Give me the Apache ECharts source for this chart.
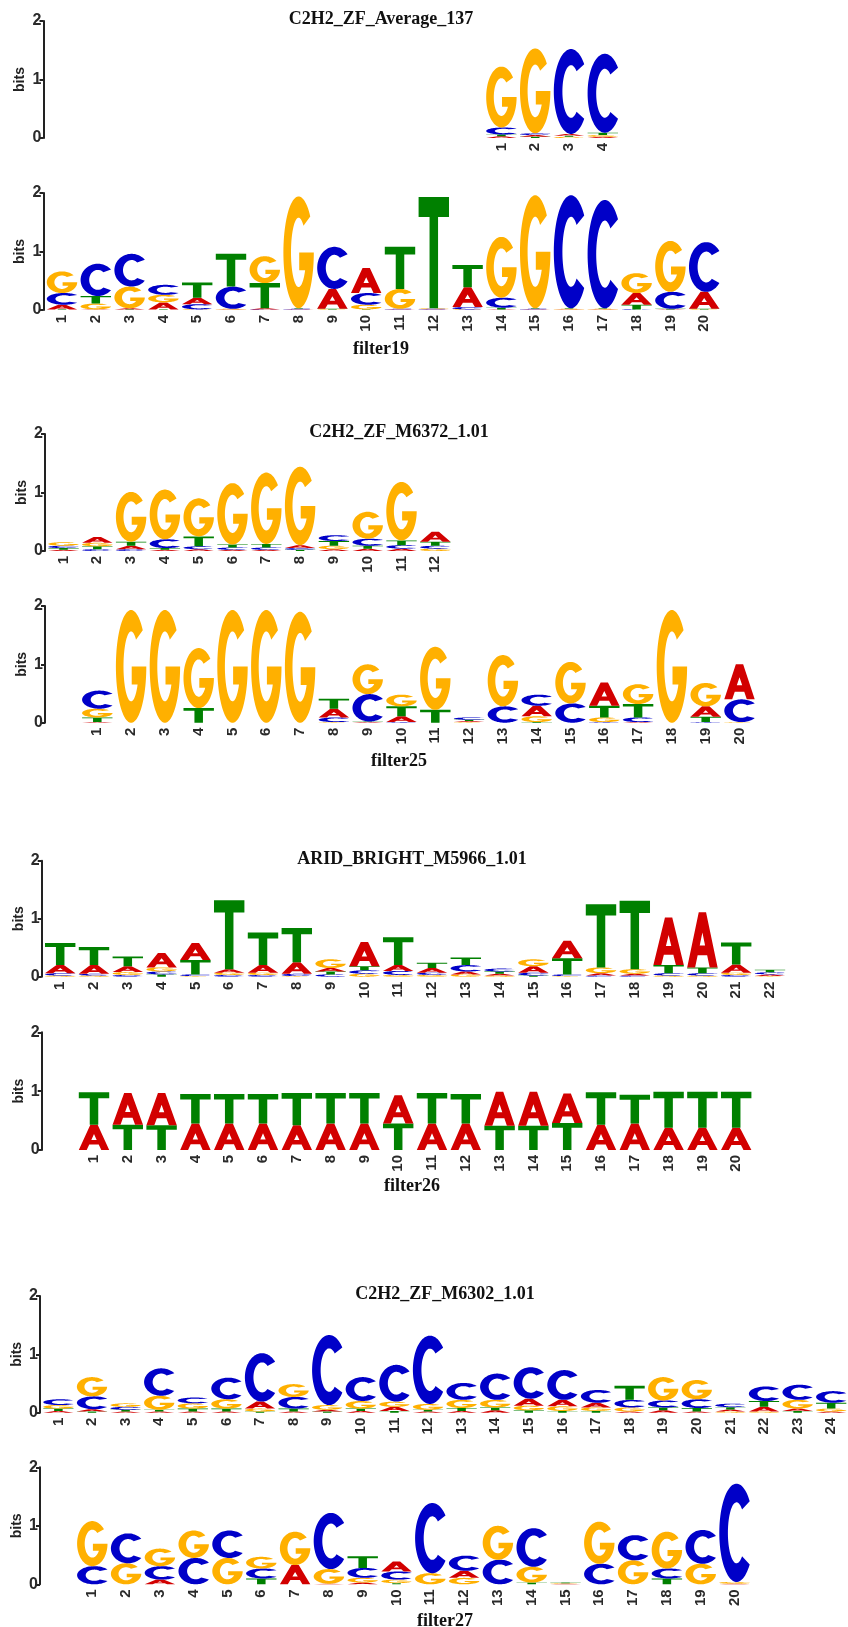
<!DOCTYPE html>
<html>
<head>
<meta charset="utf-8">
<script src="https://cdn.jsdelivr.net/npm/echarts@6/dist/echarts.min.js"></script>
<style>
html,body{margin:0;padding:0;background:#fff;}
#chart{width:848px;height:1627px;}
</style>
</head>
<body>
<div id="chart"></div>
<script>
// ---------------- DATA (information content in bits per letter per position) ----------------
// Pair 1
const avg137_A = [0.03, 0.03, 0.03, 0.02];
const avg137_C = [0.12, 0.03, 1.45, 1.35];
const avg137_G = [1.04, 1.45, 0.02, 0.03];
const avg137_T = [0.03, 0.02, 0.02, 0.04];

const filter19_A = [0.08, 0.01, 0.02, 0.12, 0.11, 0.01, 0.02, 0.01, 0.34, 0.43, 0.01, 0.01, 0.34, 0.01, 0.01, 0.01, 0.01, 0.20, 0.01, 0.29];
const filter19_C = [0.20, 0.55, 0.56, 0.17, 0.09, 0.38, 0.01, 0.01, 0.72, 0.20, 0.01, 0.01, 0.04, 0.17, 0.01, 1.93, 1.85, 0.01, 0.29, 0.85];
const filter19_G = [0.37, 0.10, 0.37, 0.13, 0.01, 0.01, 0.46, 1.91, 0.01, 0.08, 0.34, 0.01, 0.01, 1.04, 1.93, 0.01, 0.01, 0.34, 0.87, 0.01];
const filter19_T = [0.01, 0.13, 0.01, 0.01, 0.26, 0.56, 0.43, 0.01, 0.01, 0.01, 0.72, 1.90, 0.38, 0.03, 0.01, 0.01, 0.01, 0.08, 0.01, 0.01];

// Pair 2
const m6372_A = [0.02, 0.10, 0.06, 0.02, 0.03, 0.02, 0.02, 0.05, 0.03, 0.04, 0.04, 0.17];
const m6372_C = [0.04, 0.03, 0.03, 0.15, 0.05, 0.04, 0.04, 0.03, 0.10, 0.12, 0.06, 0.05];
const m6372_G = [0.06, 0.06, 0.85, 0.85, 0.65, 1.05, 1.22, 1.34, 0.06, 0.46, 1.00, 0.04];
const m6372_T = [0.03, 0.05, 0.07, 0.03, 0.17, 0.05, 0.06, 0.02, 0.08, 0.05, 0.08, 0.07];

const filter25_A = [0.01, 0, 0, 0, 0, 0, 0, 0.15, 0.01, 0.10, 0, 0.02, 0, 0.18, 0, 0.40, 0.01, 0, 0.18, 0.60];
const filter25_C = [0.31, 0, 0, 0, 0, 0, 0, 0.08, 0.47, 0.01, 0, 0.04, 0.28, 0.19, 0.33, 0.01, 0.08, 0, 0.01, 0.39];
const filter25_G = [0.15, 1.93, 1.93, 1.03, 1.93, 1.93, 1.90, 0.01, 0.51, 0.20, 1.08, 0.01, 0.88, 0.10, 0.71, 0.08, 0.34, 1.93, 0.40, 0.01];
const filter25_T = [0.08, 0, 0, 0.25, 0, 0, 0, 0.17, 0.01, 0.17, 0.22, 0.02, 0, 0.01, 0, 0.20, 0.23, 0, 0.09, 0];

// Pair 3
const m5966_A = [0.14, 0.15, 0.10, 0.25, 0.29, 0.06, 0.13, 0.20, 0.06, 0.42, 0.10, 0.08, 0.05, 0.03, 0.11, 0.30, 0.04, 0.03, 0.82, 0.95, 0.14, 0.03];
const m5966_C = [0.04, 0.03, 0.03, 0.05, 0.03, 0.03, 0.03, 0.04, 0.04, 0.06, 0.07, 0.04, 0.11, 0.05, 0.05, 0.03, 0.02, 0.02, 0.04, 0.04, 0.03, 0.035];
const m5966_G = [0.02, 0.02, 0.05, 0.07, 0.01, 0.04, 0.04, 0.01, 0.15, 0.05, 0.03, 0.03, 0.04, 0.02, 0.12, 0.01, 0.10, 0.08, 0.02, 0.02, 0.04, 0.01];
const m5966_T = [0.38, 0.31, 0.17, 0.04, 0.25, 1.19, 0.56, 0.59, 0.05, 0.07, 0.48, 0.09, 0.13, 0.04, 0.02, 0.28, 1.09, 1.18, 0.14, 0.10, 0.38, 0.045];

const filter26_A = [0.43, 0.54, 0.55, 0.45, 0.45, 0.45, 0.42, 0.45, 0.45, 0.48, 0.45, 0.45, 0.58, 0.58, 0.50, 0.43, 0.45, 0.38, 0.38, 0.38];
const filter26_C = [0, 0, 0, 0, 0, 0, 0, 0, 0, 0, 0, 0, 0, 0, 0, 0, 0, 0, 0, 0];
const filter26_G = [0, 0, 0, 0, 0, 0, 0, 0, 0, 0, 0, 0, 0, 0, 0, 0, 0, 0, 0, 0];
const filter26_T = [0.55, 0.43, 0.42, 0.50, 0.50, 0.50, 0.55, 0.52, 0.52, 0.45, 0.52, 0.50, 0.41, 0.41, 0.46, 0.55, 0.49, 0.61, 0.61, 0.61];

// Pair 4
const m6302_A = [0.03, 0.04, 0.02, 0.02, 0.02, 0.02, 0.12, 0.02, 0.03, 0.03, 0.07, 0.02, 0.03, 0.04, 0.12, 0.11, 0.08, 0.02, 0.04, 0.02, 0.035, 0.08, 0.04, 0.02];
const m6302_C = [0.10, 0.22, 0.05, 0.47, 0.10, 0.37, 0.83, 0.20, 1.20, 0.41, 0.63, 1.17, 0.29, 0.45, 0.54, 0.51, 0.22, 0.13, 0.12, 0.15, 0.06, 0.25, 0.26, 0.20];
const m6302_G = [0.06, 0.33, 0.06, 0.24, 0.09, 0.16, 0.05, 0.22, 0.08, 0.13, 0.09, 0.10, 0.14, 0.13, 0.08, 0.08, 0.06, 0.07, 0.40, 0.33, 0.02, 0.02, 0.15, 0.05];
const m6302_T = [0.04, 0.02, 0.03, 0.03, 0.05, 0.05, 0.02, 0.05, 0.02, 0.04, 0.03, 0.03, 0.05, 0.05, 0.04, 0.03, 0.03, 0.24, 0.05, 0.06, 0.04, 0.10, 0.03, 0.10];

const filter27_A = [0, 0, 0.08, 0, 0, 0, 0.33, 0.01, 0.03, 0.17, 0, 0.12, 0, 0, 0.01, 0, 0, 0, 0, 0.01];
const filter27_C = [0.31, 0.51, 0.23, 0.45, 0.47, 0.17, 0, 0.96, 0.17, 0.14, 1.20, 0.26, 0.42, 0.66, 0, 0.35, 0.43, 0.17, 0.58, 1.68];
const filter27_G = [0.77, 0.36, 0.30, 0.47, 0.45, 0.20, 0.57, 0.25, 0.08, 0.06, 0.19, 0.11, 0.58, 0.27, 0.01, 0.72, 0.41, 0.63, 0.35, 0.03];
const filter27_T = [0, 0, 0, 0, 0, 0.10, 0, 0, 0.20, 0.02, 0, 0, 0, 0.03, 0.01, 0, 0, 0.10, 0, 0];

// Motif names / labels and alignment offsets (in positions)
const motifTitles = ['C2H2_ZF_Average_137', 'C2H2_ZF_M6372_1.01', 'ARID_BRIGHT_M5966_1.01', 'C2H2_ZF_M6302_1.01'];
const filterNames = ['filter19', 'filter25', 'filter26', 'filter27'];
const motifOffsets = [13, 0, 0, 0];
const filterOffsets = [0, 1, 1, 1];
const yTicks = [0, 1, 2];

// ---------------- LAYOUT ----------------
const SLOT = 33.8;
const pairLayout = [
  { axisX: 43.5, top1: 21,    base1: 138,    top2: 193,    base2: 310,    cx: 376, titleTop: 5,    labelTop: 335 },
  { axisX: 45,   top1: 434,   base1: 551,    top2: 606,    base2: 722.7,  cx: 394, titleTop: 418,  labelTop: 747 },
  { axisX: 41.7, top1: 860.7, base1: 976.7,  top2: 1032.3, base2: 1150,   cx: 407, titleTop: 845,  labelTop: 1172 },
  { axisX: 40,   top1: 1296,  base1: 1412.7, top2: 1467.3, base2: 1584.3, cx: 440, titleTop: 1280, labelTop: 1607 }
];

const panels = [
  { pair: 0, kind: 'motif',  offset: motifOffsets[0],  A: avg137_A,   C: avg137_C,   G: avg137_G,   T: avg137_T },
  { pair: 0, kind: 'filter', offset: filterOffsets[0], A: filter19_A, C: filter19_C, G: filter19_G, T: filter19_T },
  { pair: 1, kind: 'motif',  offset: motifOffsets[1],  A: m6372_A,    C: m6372_C,    G: m6372_G,    T: m6372_T },
  { pair: 1, kind: 'filter', offset: filterOffsets[1], A: filter25_A, C: filter25_C, G: filter25_G, T: filter25_T },
  { pair: 2, kind: 'motif',  offset: motifOffsets[2],  A: m5966_A,    C: m5966_C,    G: m5966_G,    T: m5966_T },
  { pair: 2, kind: 'filter', offset: filterOffsets[2], A: filter26_A, C: filter26_C, G: filter26_G, T: filter26_T },
  { pair: 3, kind: 'motif',  offset: motifOffsets[3],  A: m6302_A,    C: m6302_C,    G: m6302_G,    T: m6302_T },
  { pair: 3, kind: 'filter', offset: filterOffsets[3], A: filter27_A, C: filter27_C, G: filter27_G, T: filter27_T }
];

// ---------------- GLYPHS (unit box letter outlines) ----------------
const LETTERS = ['A', 'C', 'G', 'T'];
const COLORS = { A: '#d20000', C: '#0000c8', G: '#ffb000', T: '#008000' };
function arc(cx, cy, rx, ry, a0, a1, n) {
  const pts = [];
  for (let i = 0; i <= n; i++) {
    const a = (a0 + (a1 - a0) * i / n) * Math.PI / 180;
    pts.push([cx + rx * Math.cos(a), cy - ry * Math.sin(a)]);
  }
  return pts;
}
function poly(pts) {
  return 'M' + pts.map(p => p[0].toFixed(2) + ',' + p[1].toFixed(2)).join('L') + 'Z';
}
const GLYPH = {
  A: 'M0,100L38,0L62,0L100,100L74,100L65.6,78L34.4,78L26,100Z M41.2,60L58.8,60L50,36.8Z',
  T: 'M0,0L100,0L100,18L64,18L64,100L36,100L36,18L0,18Z',
  C: poly(arc(50, 50, 50, 50, 40, 320, 70).concat(arc(50, 50, 25, 31, 310, 50, 70))),
  G: poly(arc(50, 50, 50, 50, 40, 360, 80).concat([[52, 50], [52, 66], [72, 66]], arc(50, 50, 25, 31, 331.6, 50, 70)))
};

// ---------------- BUILD OPTION ----------------
const SANS = 'Liberation Sans, Arial, sans-serif';
const SERIF = 'Liberation Serif, Times New Roman, serif';
const grids = [], xAxes = [], yAxes = [], series = [], titles = [];

panels.forEach((p, i) => {
  const L = pairLayout[p.pair];
  const n = p.A.length;
  const count = p.offset + n;
  const top = p.kind === 'motif' ? L.top1 : L.top2;
  const base = p.kind === 'motif' ? L.base1 : L.base2;
  grids.push({ left: L.axisX + 1.6, top: top, height: base - top, width: count * SLOT });

  const cats = [], labels = [];
  for (let s = 0; s < count; s++) {
    cats.push('s' + s);
    const pos = s - p.offset + 1;
    labels.push(pos >= 1 && pos <= n ? String(pos) : '');
  }
  xAxes.push({
    gridIndex: i, type: 'category', data: cats, boundaryGap: true,
    axisLine: { show: false }, axisTick: { show: false }, splitLine: { show: false },
    axisLabel: {
      interval: 0, rotate: 90, margin: 5, fontSize: 15, fontWeight: 'bold',
      fontFamily: SANS, color: '#2a2a2a',
      formatter: (v, idx) => labels[idx]
    }
  });
  yAxes.push({
    gridIndex: i, type: 'value', min: yTicks[0], max: yTicks[yTicks.length - 1], interval: 1,
    offset: 1.6,
    axisLine: { show: true, lineStyle: { color: '#222', width: 2 } },
    axisTick: { show: true, length: 4, lineStyle: { color: '#222', width: 2 } },
    splitLine: { show: false },
    axisLabel: { margin: 2, fontSize: 16, fontWeight: 'bold', fontFamily: SANS, color: '#2a2a2a' },
    name: 'bits', nameLocation: 'middle', nameGap: 16, nameRotate: 90, nameMoveOverlap: false,
    nameTextStyle: { fontSize: 14, fontWeight: 'bold', fontFamily: SANS, color: '#222' }
  });

  const data = [];
  for (let k = 0; k < n; k++) {
    data.push([k + p.offset, p.A[k], p.C[k], p.G[k], p.T[k]]);
  }
  series.push({
    type: 'custom', xAxisIndex: i, yAxisIndex: i, data: data,
    encode: { x: 0, y: 1 },
    renderItem: function (params, api) {
      const slot = api.value(0);
      const items = LETTERS.map((Lt, j) => ({ L: Lt, h: api.value(j + 1) }));
      items.sort((a, b) => a.h - b.h);
      const bw = api.size([1, 0])[0] * 0.9;
      let cum = 0;
      const children = [];
      items.forEach(it => {
        if (!(it.h > 0)) return;
        const pb = api.coord([slot, cum]);
        const pt = api.coord([slot, cum + it.h]);
        children.push({
          type: 'path',
          shape: { pathData: GLYPH[it.L], x: pb[0] - bw / 2, y: pt[1], width: bw, height: Math.max(pb[1] - pt[1], 0.3), layout: 'cover' },
          style: { fill: COLORS[it.L] }
        });
        cum += it.h;
      });
      return { type: 'group', children: children };
    }
  });
});

pairLayout.forEach((L, k) => {
  titles.push({
    text: motifTitles[k], left: L.cx, top: L.titleTop, textAlign: 'center',
    textStyle: { fontFamily: SERIF, fontWeight: 'bold', fontSize: 18, color: '#111' }
  });
  titles.push({
    text: filterNames[k], left: L.cx, top: L.labelTop, textAlign: 'center',
    textStyle: { fontFamily: SERIF, fontWeight: 'bold', fontSize: 18, color: '#111' }
  });
});

const chart = echarts.init(document.getElementById('chart'), null, { renderer: 'canvas' });
chart.setOption({
  animation: false,
  backgroundColor: '#ffffff',
  title: titles,
  grid: grids,
  xAxis: xAxes,
  yAxis: yAxes,
  series: series
});
</script>
</body>
</html>
